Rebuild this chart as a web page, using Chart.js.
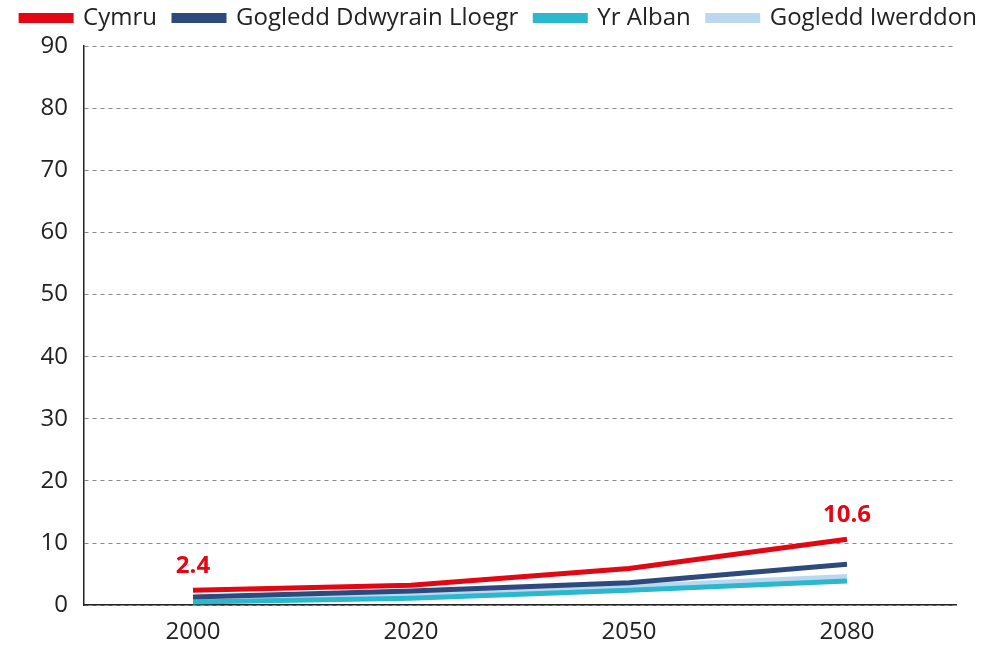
<!DOCTYPE html>
<html>
<head>
<meta charset="utf-8">
<script src="https://cdn.jsdelivr.net/npm/chart.js@4/dist/chart.umd.min.js"></script>
<style>
html,body{margin:0;padding:0;background:#fff;}
#wrap{width:998px;height:650px;position:relative;}
</style>
</head>
<body>
<div id="wrap"><canvas id="c" width="998" height="650"></canvas></div>
<script>
const categories = ["2000", "2020", "2050", "2080"];
const cymru = [2.4, 3.2, 5.9, 10.6];
const gogleddDdwyrain = [1.3, 2.3, 3.6, 6.6];
const yrAlban = [0.5, 1.1, 2.4, 3.9];
const gogleddIwerddon = [0.8, 1.7, 3.0, 4.6];
const yTicks = [0, 10, 20, 30, 40, 50, 60, 70, 80, 90];
const labelledPoints = [0, 3];

const FONT = "'Open Sans', 'Noto Sans', sans-serif";
const LAYOUT_TOP = -11;
const LEGEND_HEIGHT = 57;

const legendHeightFix = {
  id: 'legendHeightFix',
  beforeLayout(chart) {
    const lg = chart.legend;
    if (lg && !lg._hfix) {
      const orig = lg.fit.bind(lg);
      lg.fit = function () { orig(); this.height = LEGEND_HEIGHT; };
      lg._hfix = true;
    }
  }
};

const valueLabels = {
  id: 'valueLabels',
  afterDatasetsDraw(chart) {
    const ctx = chart.ctx;
    const meta = chart.getDatasetMeta(0);
    ctx.save();
    ctx.fillStyle = '#e30613';
    ctx.font = "bold 24px " + FONT;
    ctx.textAlign = 'center';
    ctx.textBaseline = 'bottom';
    labelledPoints.forEach(i => {
      const p = meta.data[i];
      ctx.fillText(String(cymru[i]), p.x, p.y - 12);
    });
    ctx.restore();
  }
};

new Chart(document.getElementById('c'), {
  type: 'line',
  data: {
    labels: categories,
    datasets: [
      {label: 'Cymru', data: cymru, borderColor: '#e30613', backgroundColor: '#e30613'},
      {label: 'Gogledd Ddwyrain Lloegr', data: gogleddDdwyrain, borderColor: '#2e4a7d', backgroundColor: '#2e4a7d'},
      {label: 'Yr Alban', data: yrAlban, borderColor: '#2bb8cc', backgroundColor: '#2bb8cc'},
      {label: 'Gogledd Iwerddon', data: gogleddIwerddon, borderColor: '#bcd8f0', backgroundColor: '#bcd8f0'}
    ].map(d => Object.assign(d, {borderWidth: 5, pointRadius: 0, tension: 0, fill: false}))
  },
  options: {
    responsive: false,
    animation: false,
    layout: {padding: {left: 0, right: 0, top: LAYOUT_TOP, bottom: -10}},
    plugins: {
      legend: {
        position: 'top',
        labels: {
          boxWidth: 50,
          boxHeight: 5,
          padding: 17,
          color: '#222',
          font: {family: FONT, size: 24}
        }
      },
      tooltip: {enabled: false}
    },
    scales: {
      x: {
        offset: true,
        grid: {display: false, drawTicks: false},
        border: {display: true, color: '#222', width: 1.5},
        ticks: {color: '#222', font: {family: FONT, size: 24}, padding: 13}
      },
      y: {
        min: 0, max: 90,
        afterBuildTicks(scale) { scale.ticks = yTicks.map(v => ({value: v})); },
        afterFit(scale) { scale.width = 84; },
        grid: {color: '#888', lineWidth: 1, drawTicks: false},
        border: {display: true, color: '#222', width: 1.5, dash: [4, 4]},
        ticks: {color: '#222', font: {family: FONT, size: 24}, padding: 16}
      },
      yRight: {
        position: 'right',
        min: 0, max: 90,
        afterFit(scale) { scale.width = 42; },
        grid: {display: false, drawTicks: false},
        border: {display: false},
        ticks: {display: false}
      }
    }
  },
  plugins: [legendHeightFix, valueLabels]
});
</script>
</body>
</html>
